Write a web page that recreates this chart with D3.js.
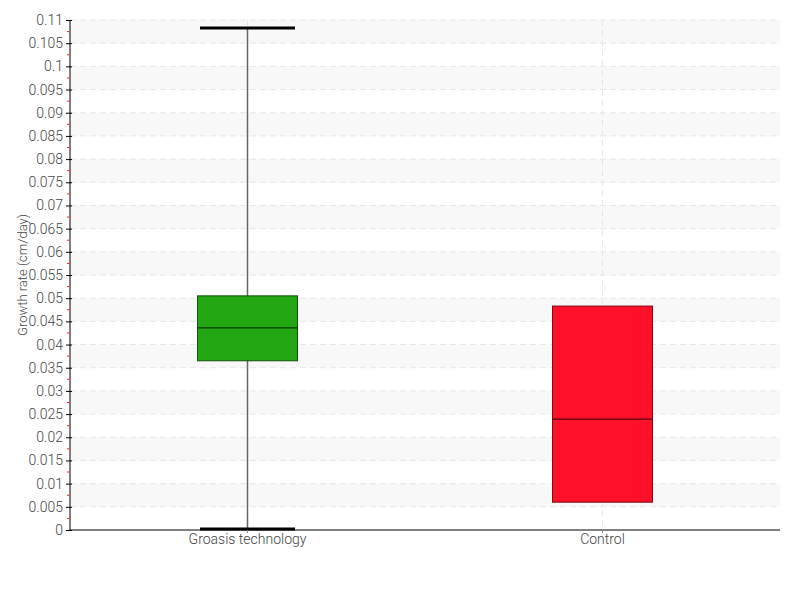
<!DOCTYPE html>
<html>
<head>
<meta charset="utf-8">
<script src="https://cdnjs.cloudflare.com/ajax/libs/d3/7.8.5/d3.min.js"></script>
<style>
  body { margin: 0; background: #fff; }
  text { font-family: Roboto, "DejaVu Sans", sans-serif; font-weight: 300; fill: #444; }
</style>
</head>
<body>
<div id="chart"></div>
<script>
// data
const categories = ['Groasis technology', 'Control'];
const whiskerLow = [0.0002, 0.006];
const q1Values = [0.0365, 0.006];
const medianValues = [0.0436, 0.0239];
const q3Values = [0.0505, 0.0483];
const whiskerHigh = [0.1083, 0.0483];
const boxColors = ['#22a612', '#ff1028'];
const yTicks = d3.range(0, 23).map(i => +(i * 0.005).toFixed(3));
const yTickLabels = yTicks.map(v => String(v));

const W = 800, H = 600;
const margin = {top: 20, right: 20, bottom: 70, left: 70};
const width = W - margin.left - margin.right,
      height = H - margin.top - margin.bottom;

const svg = d3.select('#chart').append('svg')
  .attr('width', W).attr('height', H);

const g = svg.append('g')
  .attr('transform', 'translate(' + margin.left + ',' + margin.top + ')');

const x = d3.scaleBand().domain(categories).range([0, width]);
const y = d3.scaleLinear().domain([0, 0.11]).range([height, 0]);

// alternating bands
g.append('g').selectAll('rect')
  .data(yTicks.slice(0, -1).filter((d, i) => i % 2 === 1))
  .join('rect')
    .attr('x', 0)
    .attr('width', width)
    .attr('y', d => y(d + 0.005))
    .attr('height', d => y(d) - y(d + 0.005))
    .attr('fill', '#f8f8f8');

// horizontal grid
g.append('g').selectAll('line')
  .data(yTicks.slice(1))
  .join('line')
    .attr('x1', 0).attr('x2', width)
    .attr('y1', d => y(d)).attr('y2', d => y(d))
    .attr('stroke', '#e6e6e6')
    .attr('stroke-dasharray', '6,4');

// vertical grid at categories
g.append('g').selectAll('line')
  .data(categories)
  .join('line')
    .attr('x1', d => x(d) + x.bandwidth() / 2)
    .attr('x2', d => x(d) + x.bandwidth() / 2)
    .attr('y1', 0).attr('y2', height)
    .attr('stroke', '#e6e6e6')
    .attr('stroke-dasharray', '6,4');

// boxes
const boxW = 100, capW = 95;
const boxes = g.append('g').selectAll('g')
  .data(categories.map((c, i) => ({
    cat: c, lo: whiskerLow[i], q1: q1Values[i], med: medianValues[i],
    q3: q3Values[i], hi: whiskerHigh[i], color: boxColors[i]
  })))
  .join('g')
    .attr('transform', d => 'translate(' + (x(d.cat) + x.bandwidth() / 2) + ',0)');

boxes.filter(d => d.hi > d.q3 || d.lo < d.q1).append('line')
  .attr('x1', 0).attr('x2', 0)
  .attr('y1', d => y(d.hi)).attr('y2', d => y(d.lo))
  .attr('stroke', '#666').attr('stroke-width', 1.5);

boxes.append('rect')
  .attr('x', -boxW / 2)
  .attr('width', boxW)
  .attr('y', d => y(d.q3))
  .attr('height', d => y(d.q1) - y(d.q3))
  .attr('fill', d => d.color)
  .attr('stroke', d => d3.color(d.color).darker(2))
  .attr('stroke-width', 1);

boxes.append('line')
  .attr('x1', -boxW / 2).attr('x2', boxW / 2)
  .attr('y1', d => y(d.med)).attr('y2', d => y(d.med))
  .attr('stroke', d => d3.color(d.color).darker(3))
  .attr('stroke-width', 1.2);

['hi', 'lo'].forEach(k => {
  boxes.filter(d => k === 'hi' ? d.hi > d.q3 : d.lo < d.q1).append('line')
    .attr('x1', -capW / 2).attr('x2', capW / 2)
    .attr('y1', d => y(d[k])).attr('y2', d => y(d[k]))
    .attr('stroke', '#000').attr('stroke-width', 3);
});

// axes
const yAxis = d3.axisLeft(y).tickValues(yTicks)
  .tickFormat((d, i) => yTickLabels[i]).tickSize(4).tickPadding(3);
const ya = g.append('g').call(yAxis);
ya.select('.domain').attr('stroke', '#000').attr('d', 'M0,' + height + 'V0');
ya.selectAll('.tick line').attr('stroke', '#000').attr('x2', 2).attr('x1', -4);
ya.selectAll('text').style('font-size', '14px').attr('fill', '#444');

// minor red ticks
g.append('g').selectAll('line')
  .data(yTicks.slice(0, -1).map(d => d + 0.0025))
  .join('line')
    .attr('x1', -3).attr('x2', -0.5)
    .attr('y1', d => y(d)).attr('y2', d => y(d))
    .attr('stroke', '#ff2020');

const xAxis = d3.axisBottom(x).tickSize(3).tickPadding(1);
const xa = g.append('g').attr('transform', 'translate(0,' + height + ')').call(xAxis);
xa.select('.domain').attr('stroke', '#000').attr('d', 'M0,0H' + width);
xa.selectAll('.tick line').attr('stroke', '#888');
xa.selectAll('text').style('font-size', '14px').attr('fill', '#444');

svg.append('text')
  .attr('transform', 'translate(27,' + (margin.top + height / 2) + ') rotate(-90)')
  .attr('text-anchor', 'middle')
  .style('font-size', '13px')
  .text('Growth rate (cm/day)');
</script>
</body>
</html>
